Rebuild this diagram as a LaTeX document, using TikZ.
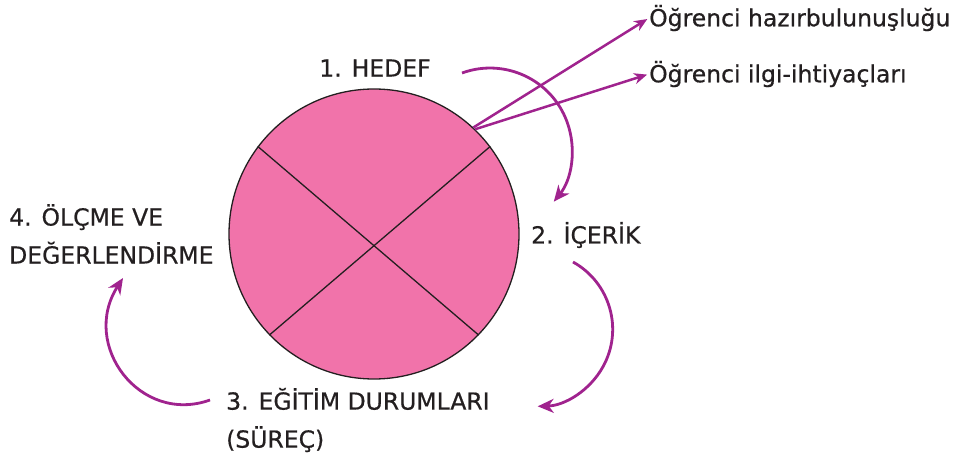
\documentclass[tikz,border=0pt]{standalone}
\usepackage{fontspec}
\setmainfont{DejaVu Sans}
\newfontfamily\lblfont{DejaVu Sans}[FakeBold=0.6]
\usetikzlibrary{arrows.meta}
\definecolor{pinkc}{HTML}{F173AA}
\definecolor{purp}{HTML}{A0238E}
\definecolor{inkc}{HTML}{231F20}
\tikzset{
  lbl/.style={inner sep=0pt, text=inkc, font=\lblfont\fontsize{23.5}{38}\selectfont},
  conn/.style={draw=purp, line width=2.8pt, -{Stealth[length=16pt,width=14pt,inset=5pt]}},
  sconn/.style={draw=purp, line width=2.5pt, -{Stealth[length=13pt,width=11pt,inset=4pt]}},
  chord/.style={draw=inkc, line width=1.3pt}
}
\begin{document}
\begin{tikzpicture}[x=1pt,y=-1pt]
\useasboundingbox (0,0) rectangle (956,465);
% circle
\node[circle, draw=inkc, line width=1.3pt, fill=pinkc, minimum size=290pt, inner sep=0pt] (circ) at (374,234) {};
\draw[chord] (circ.143) -- (circ.-44);
\draw[chord] (circ.37) -- (circ.224);
% labels
\node[lbl] (hedef) at (375,68) {1. HEDEF};
\node[lbl, anchor=west] (icerik) at (531,235) {2. İÇERİK};
\node[lbl, anchor=west, align=left] (egitim) at (226,420) {3. EĞİTİM DURUMLARI\\(SÜREÇ)};
\node[lbl, anchor=west, align=left] (olcme) at (9,234) {4. ÖLÇME VE\\DEĞERLENDİRME};
\node[lbl, anchor=west] (hazir) at (649,18) {Öğrenci hazırbulunuşluğu};
\node[lbl, anchor=west] (ilgi) at (649,74) {Öğrenci ilgi-ihtiyaçları};
% straight arrows
\draw[sconn, shorten >=2pt] (circ.47) -- (hazir.west);
\draw[sconn, shorten >=2pt] (circ.46) -- (ilgi.west);
% curved arrows
\coordinate (c1) at (462,73);
\coordinate (c2) at (573,262);
\coordinate (c3s) at (210,400);
\coordinate (c3e) at (123,278);
\draw[conn] (c1) arc[start angle=-110, end angle=39, radius=82];
\draw[conn] (c2) arc[start angle=-61, end angle=88.5, radius=77];
\draw[conn] (c3s) .. controls (140,425) and (80,345) .. (c3e);
\end{tikzpicture}
\end{document}
